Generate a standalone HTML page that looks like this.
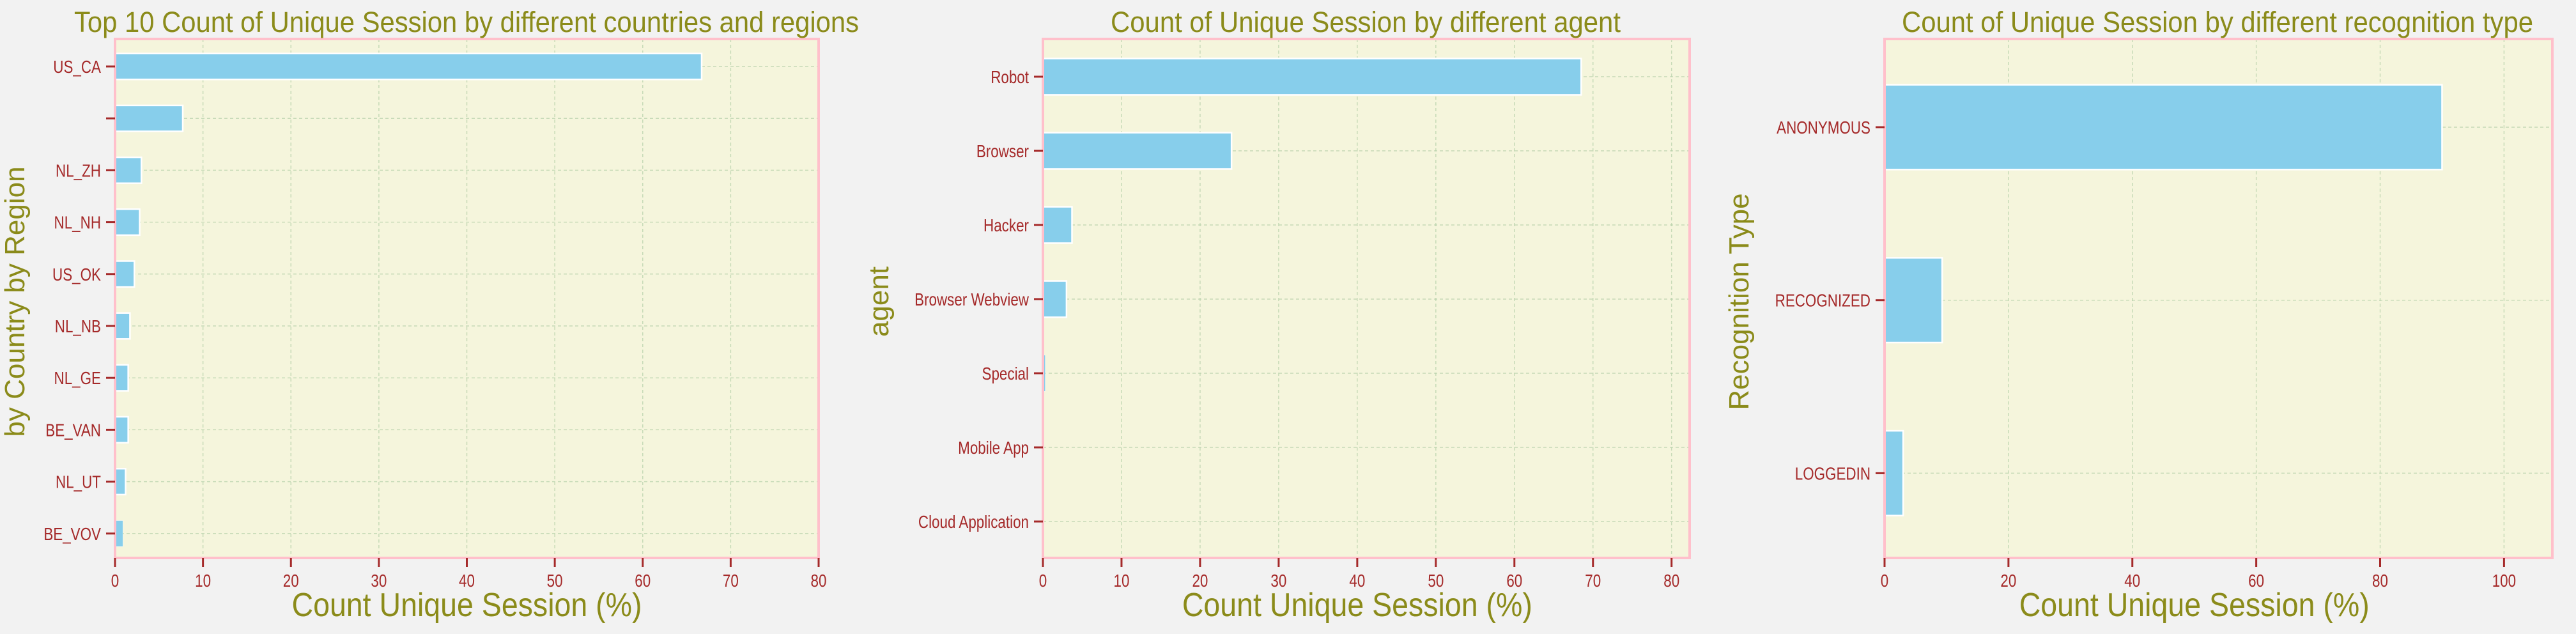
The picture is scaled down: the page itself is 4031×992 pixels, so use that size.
<!DOCTYPE html>
<html><head><meta charset="utf-8"><style>
html,body{margin:0;padding:0;background:#f2f2f2;}
svg{display:block;font-family:"Liberation Sans",sans-serif;}
</style></head><body>
<svg id="c" width="4031" height="992" viewBox="0 0 4031 992"></svg>
<script>
const regionCats = ["US_CA","","NL_ZH","NL_NH","US_OK","NL_NB","NL_GE","BE_VAN","NL_UT","BE_VOV"];
const regionVals = [66.7,7.7,3.0,2.8,2.2,1.7,1.5,1.5,1.2,0.9];
const regionTicks = [0,10,20,30,40,50,60,70,80];
const agentCats = ["Robot","Browser","Hacker","Browser Webview","Special","Mobile App","Cloud Application"];
const agentVals = [68.5,24.0,3.7,3.0,0.3,0.0,0.0];
const agentTicks = [0,10,20,30,40,50,60,70,80];
const recogCats = ["ANONYMOUS","RECOGNIZED","LOGGEDIN"];
const recogVals = [90.0,9.3,3.0];
const recogTicks = [0,20,40,60,80,100];

const NS="http://www.w3.org/2000/svg";
const svg=document.getElementById('c');
function mk(tag,attrs,parent){const e=document.createElementNS(NS,tag);for(const k in attrs)e.setAttribute(k,attrs[k]);(parent||svg).appendChild(e);return e;}

function chart(cfg){
  const g=mk('g',{});
  
  
  const L=cfg.left,R=cfg.right,T=61,B=873;
  const xs=v=>L+(v-0)*(R-L)/cfg.xmax;
  const ys=i=>cfg.y0+i*cfg.step;
  const bg=mk('rect',{x:L,y:T,width:R-L,height:B-T,fill:'#f5f5dc'},g);
  
  
  cfg.ticks.forEach(t=>{
    const l=mk('line',{x1:xs(t),x2:xs(t),y1:T,y2:B,stroke:'#b4d0a8','stroke-width':1.5,'stroke-dasharray':'5,4',opacity:0.7},g);
    
    
  });
  cfg.cats.forEach((c,i)=>{
    const l=mk('line',{x1:L,x2:R,y1:ys(i),y2:ys(i),stroke:'#b4d0a8','stroke-width':1.5,'stroke-dasharray':'5,4',opacity:0.7},g);
    
    
  });
  cfg.cats.forEach((c,i)=>{
    const v=cfg.vals[i];
    if(v<=0)return;
    const h=cfg.step*cfg.bw;
    const r=mk('rect',{x:xs(0),y:ys(i)-h/2,width:Math.max(xs(v)-xs(0),1.5),height:h,fill:'#87ceeb',stroke:'#ffffff','stroke-width':v<1?0.5:2.5},g);
    
    
  });
  const f=mk('rect',{x:L,y:T,width:R-L,height:B-T,fill:'none',stroke:'#ffc0cb','stroke-width':4},g);
  
  
  cfg.cats.forEach((c,i)=>{
    const tk=mk('line',{x1:L-14,x2:L,y1:ys(i),y2:ys(i),stroke:'#a52a2a','stroke-width':3},g);
    
    
    if(c){
      const t=mk('text',{x:L-22,y:ys(i)+10,'text-anchor':'end','font-size':28,fill:'#a52a2a'},g);
      t.textContent=c;
      
      
      const w=t.getComputedTextLength();
      t.setAttribute('textLength',w*0.8);t.setAttribute('lengthAdjust','spacingAndGlyphs');
    }
  });
  cfg.ticks.forEach(v=>{
    const tk=mk('line',{x1:xs(v),x2:xs(v),y1:B,y2:B+14,stroke:'#a52a2a','stroke-width':3},g);
    
    
    const t=mk('text',{x:xs(v),y:918,'text-anchor':'middle','font-size':28,fill:'#a52a2a'},g);
    t.textContent=v;
    
    
    const w=t.getComputedTextLength();
    t.setAttribute('textLength',w*0.8);t.setAttribute('lengthAdjust','spacingAndGlyphs');
  });
  const tt=mk('text',{x:cfg.titleX,y:50,'text-anchor':'middle','font-size':45,fill:'#8b8b1a',textLength:cfg.titleW,lengthAdjust:'spacingAndGlyphs'},g);
  tt.textContent=cfg.title;
  
  
  const xl=mk('text',{x:(xs(0)+xs(cfg.ticks[cfg.ticks.length-1]))/2,y:964,'text-anchor':'middle','font-size':52,fill:'#8b8b1a',textLength:548,lengthAdjust:'spacingAndGlyphs'},g);
  xl.textContent='Count Unique Session (%)';
  
  
  const yl=mk('text',{x:0,y:0,'text-anchor':'middle','font-size':cfg.ylFont,fill:'#8b8b1a',transform:`translate(${cfg.ylX},472) rotate(-90)`},g);
  yl.textContent=cfg.ylabel;
  
  
}

chart({name:'region-chart',left:180,right:1281,xmax:80,cats:regionCats,vals:regionVals,ticks:regionTicks,y0:104,step:81.2,bw:0.5,
  title:'Top 10 Count of Unique Session by different countries and regions',titleX:730,titleW:1228,ylabel:'by Country by Region',ylX:38,ylFont:44});
chart({name:'agent-chart',left:1632,right:2644,xmax:82.3,cats:agentCats,vals:agentVals,ticks:agentTicks,y0:120,step:116,bw:0.49,
  title:'Count of Unique Session by different agent',titleX:2137,titleW:798,ylabel:'agent',ylX:1390,ylFont:44});
chart({name:'recognition-chart',left:2949,right:3994,xmax:107.8,cats:recogCats,vals:recogVals,ticks:recogTicks,y0:199,step:270.7,bw:0.49,
  title:'Count of Unique Session by different recognition type',titleX:3470,titleW:988,ylabel:'Recognition Type',ylX:2736,ylFont:44});
</script>
</body></html>
